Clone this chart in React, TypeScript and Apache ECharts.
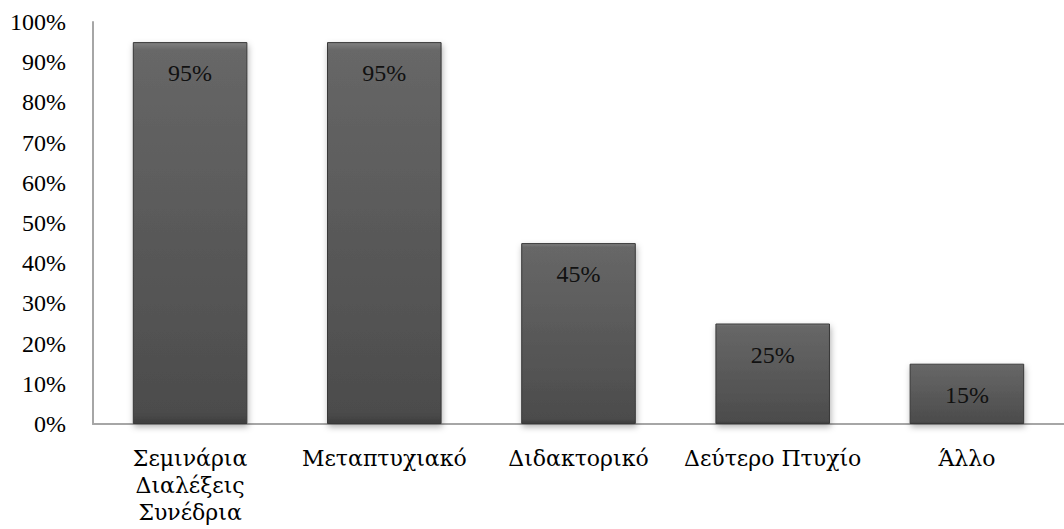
import React, { useEffect, useRef } from "react";
import * as echarts from "echarts";

const categories = ["Σεμινάρια\nΔιαλέξεις\nΣυνέδρια", "Μεταπτυχιακό", "Διδακτορικό", "Δεύτερο Πτυχίο", "Άλλο"];
const values = [95, 95, 45, 25, 15];

const FONT = "'Liberation Serif', 'DejaVu Serif', serif";
const GREEK_FONT = "'DejaVu Serif', 'Liberation Serif', serif";

export default function App() {
  const ref = useRef<HTMLDivElement>(null);
  useEffect(() => {
    document.body.style.margin = "0";
    const chart = echarts.init(ref.current!, undefined, { renderer: "svg" });
    chart.setOption({
      animation: false,
      backgroundColor: "#ffffff",
      grid: { left: 93, top: 22, width: 986, height: 402, containLabel: false },
      xAxis: {
        type: "category",
        data: categories,
        axisLine: { show: true, lineStyle: { color: "#a6a6a6", width: 2 } },
        axisTick: { show: false },
        axisLabel: {
          fontFamily: GREEK_FONT,
          fontSize: 22,
          color: "#000000",
          lineHeight: 27,
          margin: 21,
          interval: 0,
        },
      },
      yAxis: {
        type: "value",
        min: 0,
        max: 100,
        interval: 10,
        axisLine: { show: true, lineStyle: { color: "#a6a6a6", width: 2 } },
        axisTick: { show: false },
        splitLine: { show: false },
        axisLabel: {
          fontFamily: FONT,
          fontSize: 24,
          color: "#000000",
          margin: 27,
          formatter: "{value}%",
        },
      },
      series: [
        {
          type: "bar",
          data: values,
          barWidth: "59%",
          itemStyle: {
            color: new echarts.graphic.LinearGradient(0, 0, 0, 1, [
              { offset: 0, color: "#808080" },
              { offset: 0.02, color: "#676767" },
              { offset: 0.5, color: "#595959" },
              { offset: 0.97, color: "#4c4c4c" },
              { offset: 1, color: "#3e3e3e" },
            ]),
            borderColor: "#383838",
            borderWidth: 1,
            shadowColor: "rgba(0,0,0,0.3)",
            shadowBlur: 6,
            shadowOffsetX: 1,
            shadowOffsetY: 3,
          },
          label: {
            show: true,
            position: "insideTop",
            distance: 19,
            formatter: "{c}%",
            fontFamily: FONT,
            fontSize: 24,
            color: "#111111",
          },
        },
      ],
    });
    return () => chart.dispose();
  }, []);
  return <div ref={ref} style={{ width: 1064, height: 529 }} />;
}
